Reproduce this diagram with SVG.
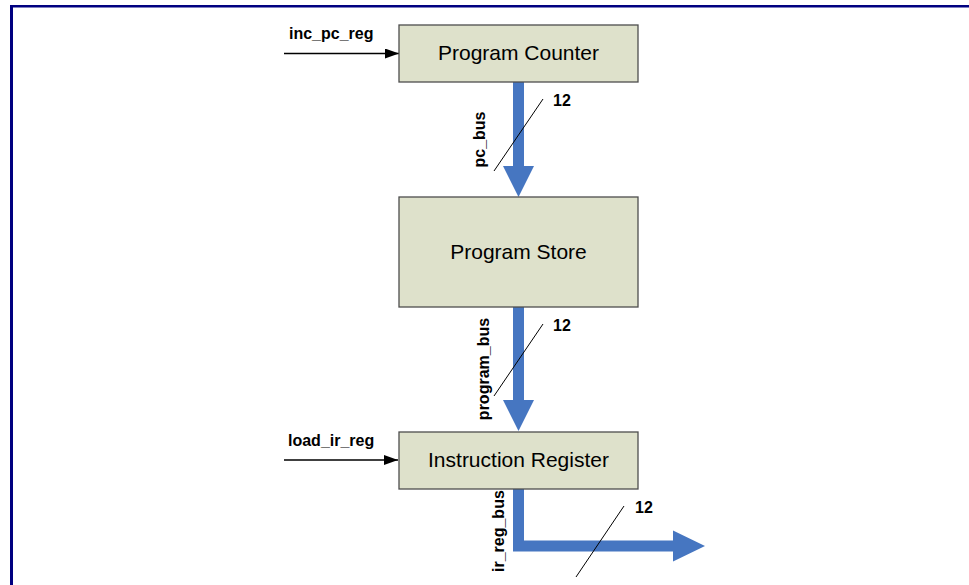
<svg xmlns="http://www.w3.org/2000/svg" width="969" height="585" viewBox="0 0 969 585">
<style>
.box{fill:#dee1cb;stroke:#4d4d4d;stroke-width:1.3}
.title{font-family:"Liberation Sans",Arial,sans-serif;font-size:21px;fill:#000;text-anchor:middle}
.lbl{font-family:"Liberation Sans",Arial,sans-serif;font-size:16px;font-weight:bold;fill:#000}
.bus{fill:none;stroke:#4676c1;stroke-width:11;stroke-linejoin:miter}
.head{fill:#4676c1}
.sig{stroke:#000;stroke-width:1.5;fill:none}
.slash{stroke:#000;stroke-width:1}
</style>
<defs>
<marker id="ah" markerWidth="14" markerHeight="10" refX="14" refY="5" orient="auto" markerUnits="userSpaceOnUse">
<path d="M0,0 L14,5 L0,10 Z" fill="#000"/>
</marker>
</defs>
<rect width="969" height="585" fill="#fff"/>
<g id="frame" fill="#000080">
<rect x="10" y="5" width="959" height="2.5"/>
<rect x="10" y="5" width="3" height="580"/>
</g>
<g id="connectors">
<line class="sig" x1="284" y1="53.5" x2="399" y2="53.5" marker-end="url(#ah)"/>
<line class="sig" x1="284" y1="460" x2="398" y2="460" marker-end="url(#ah)"/>
<path class="bus" d="M518.5 82 V168"/>
<polygon class="head" points="503,166 534,166 518.5,197"/>
<path class="bus" d="M518.5 307 V402"/>
<polygon class="head" points="503,400 534,400 518.5,431"/>
<path class="bus" d="M518.5 489 V546 H675"/>
<polygon class="head" points="673,530.5 673,561.5 705,546"/>
<line class="slash" x1="494" y1="171" x2="543" y2="99"/>
<line class="slash" x1="494" y1="396" x2="543" y2="324"/>
<line class="slash" x1="576" y1="577" x2="624" y2="506"/>
<text class="lbl" x="289" y="39">inc_pc_reg</text>
<text class="lbl" x="288" y="446">load_ir_reg</text>
<text class="lbl" x="553" y="106">12</text>
<text class="lbl" x="553" y="331">12</text>
<text class="lbl" x="635" y="513">12</text>
<text class="lbl" text-anchor="middle" transform="translate(485,139.5) rotate(-90)">pc_bus</text>
<text class="lbl" text-anchor="middle" transform="translate(488.5,369) rotate(-90)">program_bus</text>
<text class="lbl" transform="translate(503.5,572) rotate(-90)">ir_reg_bus</text>
</g>
<g id="pc">
<rect class="box" x="399" y="25" width="239" height="57"/>
<text class="title" x="518.5" y="59.5">Program Counter</text>
</g>
<g id="ps">
<rect class="box" x="399" y="197" width="239" height="110"/>
<text class="title" x="518.5" y="258.5">Program Store</text>
</g>
<g id="ir">
<rect class="box" x="399" y="432" width="239" height="57"/>
<text class="title" x="518.5" y="467">Instruction Register</text>
</g>
</svg>
